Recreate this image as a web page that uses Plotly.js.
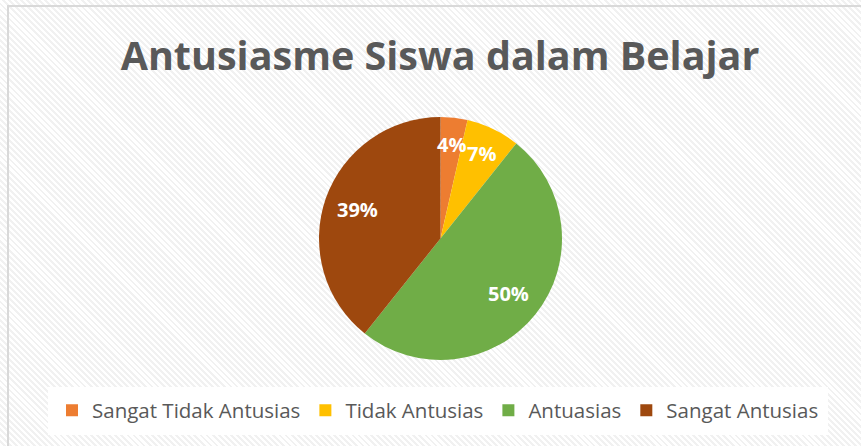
<!DOCTYPE html>
<html>
<head>
<meta charset="utf-8">
<script src="https://cdn.plot.ly/plotly-3.0.1.min.js"></script>
<style>
  html, body { margin: 0; padding: 0; background: #ffffff; }
  #wrap {
    position: relative; width: 861px; height: 446px; overflow: hidden;
    background: repeating-linear-gradient(45deg, #ffffff 0px, #ffffff 2.3px, #f1f1f1 2.3px, #f1f1f1 4.3px);
  }
  #frame {
    position: absolute; left: 7px; top: 5px; width: 900px; height: 500px;
    border-top: 2px solid #d9d9d9; border-left: 2px solid #d9d9d9;
    box-sizing: border-box;
  }
  #chart { position: absolute; left: 0; top: 0; width: 861px; height: 446px; }
</style>
</head>
<body>
<div id="wrap">
  <div id="frame"></div>
  <div id="chart"></div>
</div>
<script>
// ---- data ----
const categories = ["Sangat Tidak Antusias", "Tidak Antusias", "Antuasias", "Sangat Antusias"];
const counts = [1, 2, 14, 11];
const colors = ["#ED7D31", "#FFC000", "#70AD47", "#9E480E"];
const chartTitle = "Antusiasme Siswa dalam Belajar";

// ---- layout constants ----
const W = 861, H = 446;
const cx = 440.5, cy = 238.5, R = 121.5;
const FONT = "Open Sans, Noto Sans, DejaVu Sans, sans-serif";

const domX = [(cx - R) / W, (cx + R) / W];
const domY = [1 - (cy + R) / H, 1 - (cy - R) / H];

const total = counts.reduce((a, b) => a + b, 0);
const annotations = [];
let cum = 0;
counts.forEach((v, i) => {
  const mid = (cum + v / 2) / total * 2 * Math.PI;
  cum += v;
  const rr = (v / total < 0.1 ? 0.78 : 0.72) * R;
  const px = cx + rr * Math.sin(mid);
  const py = cy - rr * Math.cos(mid);
  annotations.push({
    text: Math.round(v / total * 100) + "%",
    x: px / W, y: 1 - py / H, xref: "paper", yref: "paper",
    xanchor: "center", yanchor: "middle", showarrow: false,
    font: { family: FONT, size: 20, color: "#ffffff", weight: "bold" }
  });
});

const trace = {
  type: "pie",
  labels: categories,
  values: counts,
  marker: { colors: colors, line: { width: 0 } },
  sort: false,
  direction: "clockwise",
  rotation: 0,
  textinfo: "none",
  hoverinfo: "label+percent",
  domain: { x: domX, y: domY }
};

const layout = {
  width: W, height: H,
  margin: { l: 0, r: 0, t: 0, b: 0 },
  paper_bgcolor: "rgba(0,0,0,0)",
  plot_bgcolor: "rgba(0,0,0,0)",
  title: {
    text: chartTitle,
    font: { family: FONT, size: 39.5, color: "#595959", weight: "bold" },
    x: 440 / W, xanchor: "center", y: 1 - 56 / H, yanchor: "middle"
  },
  showlegend: true,
  legend: {
    orientation: "h",
    x: 438 / W, xanchor: "center",
    y: 1 - 410.5 / H, yanchor: "middle",
    bgcolor: "#ffffff",
    bordercolor: "#ffffff",
    borderwidth: 4,
    font: { family: FONT, size: 20.5, color: "#595959" },
    itemwidth: 30,
    traceorder: "normal"
  },
  annotations: annotations
};

Plotly.newPlot("chart", [trace], layout, { displayModeBar: false, staticPlot: true });
</script>
</body>
</html>
